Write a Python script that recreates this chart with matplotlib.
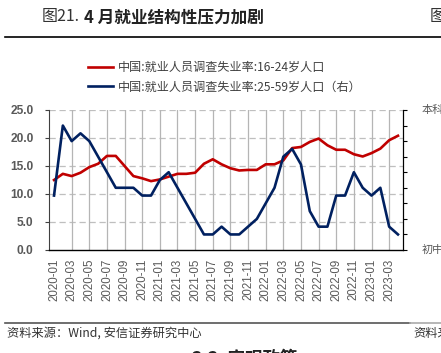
import matplotlib
matplotlib.use("Agg")
import matplotlib.pyplot as plt
from matplotlib.lines import Line2D

plt.rcParams['font.family'] = ['Noto Sans CJK SC', 'DejaVu Sans']

# ============================================================
# DATOS
# ============================================================
meses = ["2020-01", "2020-02", "2020-03", "2020-04", "2020-05", "2020-06",
         "2020-07", "2020-08", "2020-09", "2020-10", "2020-11", "2020-12",
         "2021-01", "2021-02", "2021-03", "2021-04", "2021-05", "2021-06",
         "2021-07", "2021-08", "2021-09", "2021-10", "2021-11", "2021-12",
         "2022-01", "2022-02", "2022-03", "2022-04", "2022-05", "2022-06",
         "2022-07", "2022-08", "2022-09", "2022-10", "2022-11", "2022-12",
         "2023-01", "2023-02", "2023-03", "2023-04"]

joven_16_24 = [12.5, 13.6, 13.2, 13.8, 14.8, 15.4, 16.8, 16.8, 15.0, 13.2,
               12.8, 12.3, 12.6, 13.1, 13.6, 13.6, 13.8, 15.4, 16.2, 15.3,
               14.6, 14.2, 14.3, 14.3, 15.3, 15.3, 16.0, 18.2, 18.4, 19.3,
               19.9, 18.7, 17.9, 17.9, 17.1, 16.7, 17.3, 18.1, 19.6, 20.4]

adulto_25_59 = [4.7, 5.6, 5.4, 5.5, 5.4, 5.2, 5.0, 4.8, 4.8, 4.8,
                4.7, 4.7, 4.9, 5.0, 4.8, 4.6, 4.4, 4.2, 4.2, 4.3,
                4.2, 4.2, 4.3, 4.4, 4.6, 4.8, 5.2, 5.3, 5.1, 4.5,
                4.3, 4.3, 4.7, 4.7, 5.0, 4.8, 4.7, 4.8, 4.3, 4.2]

ticks_izq = [0, 5, 10, 15, 20, 25]

ROJO = "#C00000"
AZUL = "#002060"
GRIS = "#595959"
LATIN = ["Liberation Sans", "DejaVu Sans"]

# ============================================================
# FIGURA
# ============================================================
fig = plt.figure(figsize=(4.41, 3.53), dpi=100)
ax = fig.add_axes([49 / 441, 1 - 250 / 353, 354 / 441, 140 / 353])
ax2 = ax.twinx()

x = list(range(len(meses)))

ax.plot(x, joven_16_24, color=ROJO, lw=1.9, zorder=3)
ax2.plot(x, adulto_25_59, color=AZUL, lw=1.9, zorder=3)

ax.set_xlim(-0.57, 39.57)
ax.set_ylim(0, 25)
ax2.set_ylim(4.0, 5.8)

# cuadrícula
for v in ticks_izq[1:]:
    ax.axhline(v, color="#bfbfbf", lw=0.9, ls=(0, (5, 3)), zorder=1)
for i in range(2, len(meses), 2):
    ax.axvline(i, color="#b5b5b5", lw=0.9, zorder=1)

ax.set_yticks(ticks_izq)
ax.set_yticklabels([f"{v:.1f}" for v in ticks_izq], fontsize=8.6, color=GRIS,
                   family=LATIN, fontweight="bold")
ax.set_xticks(x[::2])
ax.set_xticklabels(meses[::2], rotation=90, fontsize=8.3, color=GRIS, family=LATIN)
ax.tick_params(axis="x", length=0, pad=6)
ax.tick_params(axis="y", length=3, width=0.8, color="#404040", pad=8)

ax2.set_yticks([4.0 + 0.2 * k for k in range(10)])
ax2.set_yticklabels([])
ax2.tick_params(axis="y", length=3, width=0.8, color="black")

for a in (ax, ax2):
    a.spines["top"].set_visible(False)
ax.spines["left"].set_color("#404040")
ax.spines["bottom"].set_color("black")
ax.spines["bottom"].set_linewidth(1.0)
ax2.spines["right"].set_color("black")
ax2.spines["left"].set_visible(False)
ax2.spines["bottom"].set_visible(False)

# leyenda
handles = [Line2D([], [], color=ROJO, lw=1.9), Line2D([], [], color=AZUL, lw=1.9)]
fig.legend(handles, ["中国:就业人员调查失业率:16-24岁人口",
                     "中国:就业人员调查失业率:25-59岁人口（右）"],
           loc="upper left", bbox_to_anchor=(88 / 441, 1 - 61 / 353),
           frameon=False, fontsize=8.7, labelcolor="#404040",
           handlelength=2.1, handletextpad=0.35, labelspacing=0.55,
           borderaxespad=0, borderpad=0)

# ============================================================
# TEXTOS DE PÁGINA
# ============================================================
fig.text(42 / 441, 1 - 17 / 353, "图21.", fontsize=11.5, color="#333333",
         va="center", ha="left")
fig.text(84 / 441, 1 - 17 / 353, "4 月就业结构性压力加剧", fontsize=12,
         color="#222222", fontweight="bold", va="center", ha="left")
fig.text(430 / 441, 1 - 17 / 353, "图", fontsize=11.5, color="#333333",
         va="center", ha="left")
fig.add_artist(Line2D([5 / 441, 1], [1 - 37 / 353] * 2, color="black", lw=1.2))

fig.text(422 / 441, 1 - 110 / 353, "本科", fontsize=8, color=GRIS, va="center")
fig.text(422 / 441, 1 - 250 / 353, "初中", fontsize=8, color=GRIS, va="center")

fig.add_artist(Line2D([5 / 441, 410 / 441], [1 - 323 / 353] * 2, color="#555555", lw=1.2))
fig.add_artist(Line2D([410 / 441, 1], [1 - 323 / 353] * 2, color="#aaaaaa", lw=1.2))
fig.text(7 / 441, 1 - 333 / 353, "资料来源：Wind, 安信证券研究中心", fontsize=8.8,
         color="#333333", style="italic", va="center", ha="left")
fig.text(413 / 441, 1 - 333 / 353, "资料来源", fontsize=8.8, color="#333333",
         style="italic", va="center", ha="left")
fig.text(245 / 441, 1 - 359 / 353, "3.3. 宏观政策", fontsize=12.5, color="#222222",
         fontweight="bold", va="center", ha="center")

fig.savefig("out.png", dpi=100)
